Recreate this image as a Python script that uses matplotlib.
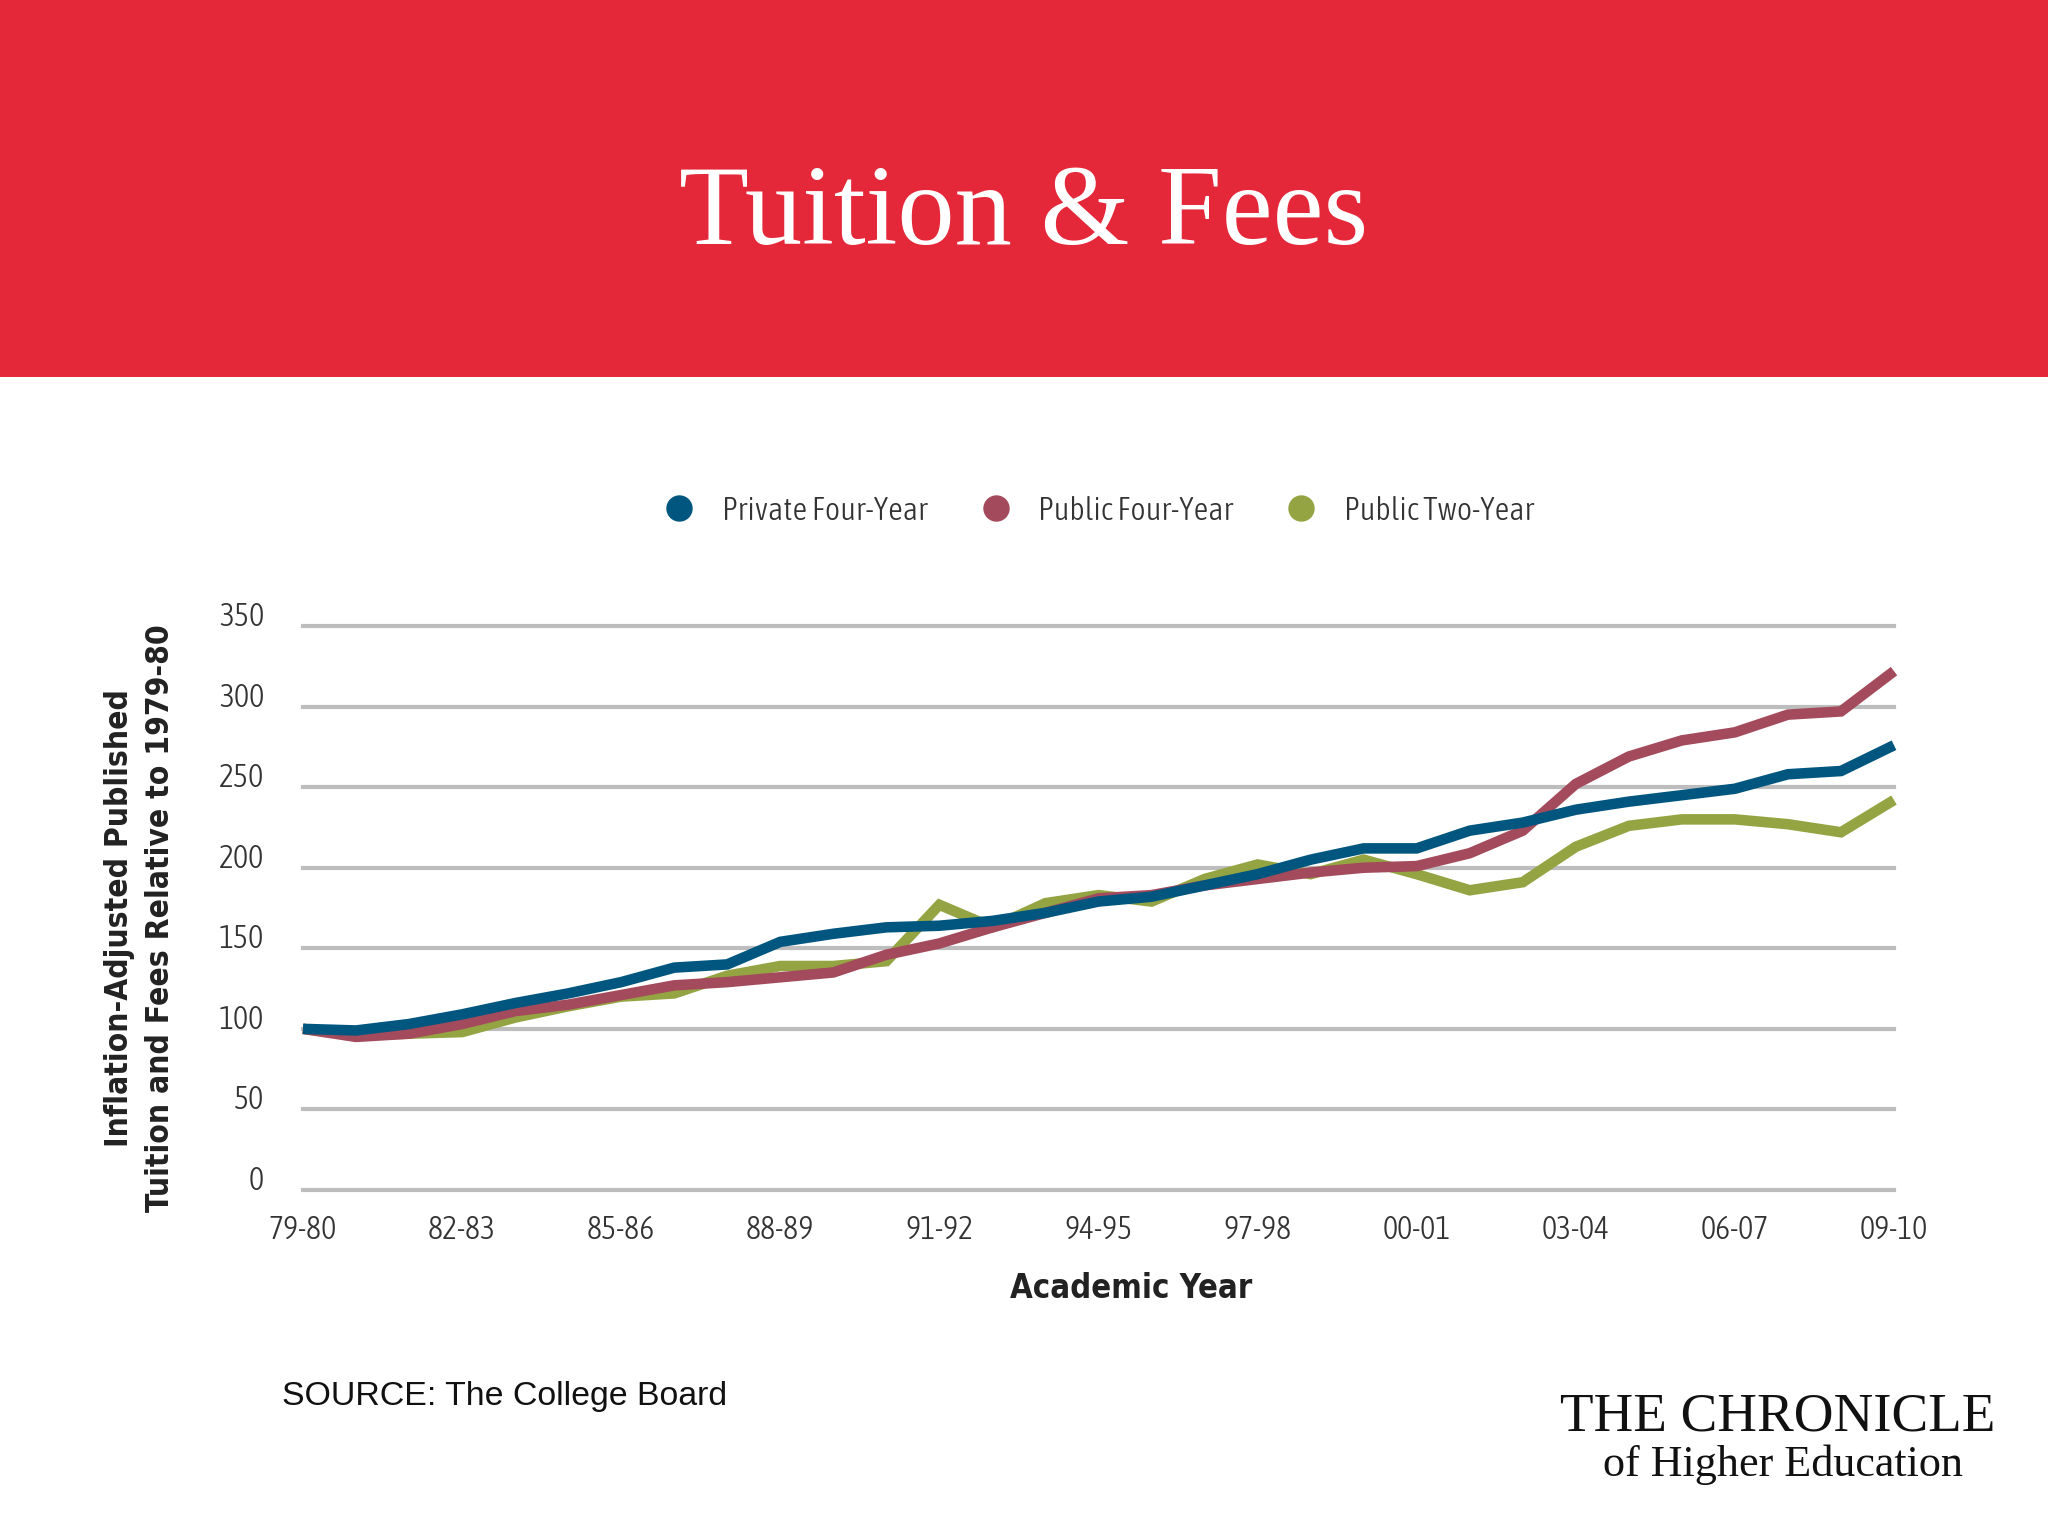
import os
import numpy as np
import matplotlib
matplotlib.use('Agg')
import matplotlib.pyplot as plt
import matplotlib.transforms as mtrans
from matplotlib import font_manager as fm
from matplotlib.lines import Line2D
from matplotlib.patches import Rectangle

# data (index, 1979-80 = 100)
years = ['79-80', '80-81', '81-82', '82-83', '83-84', '84-85', '85-86', '86-87', '87-88', '88-89',
         '89-90', '90-91', '91-92', '92-93', '93-94', '94-95', '95-96', '96-97', '97-98', '98-99',
         '99-00', '00-01', '01-02', '02-03', '03-04', '04-05', '05-06', '06-07', '07-08', '08-09', '09-10']
private_four = [100, 99, 103, 109, 116, 122, 129, 138, 140, 154,
                159, 163, 164, 167, 172, 179, 182, 189, 196, 205,
                212, 212, 223, 228, 236, 241, 245, 249, 258, 260, 276]
public_four = [100, 95, 97, 103, 111, 115, 121, 127, 129, 132,
               135, 146, 153, 163, 172, 181, 183, 189, 193, 197,
               200, 201, 209, 223, 252, 269, 279, 284, 295, 297, 322]
public_two = [100, 96, 97, 98, 107, 114, 120, 122, 133, 139,
              139, 142, 177, 163, 178, 183, 179, 193, 202, 196,
              205, 196, 186, 191, 213, 226, 230, 230, 227, 222, 242]
yticks = [0, 50, 100, 150, 200, 250, 300, 350]
series_names = ['Private Four-Year', 'Public Four-Year', 'Public Two-Year']

c_blue = '#00567F'
c_red = '#A34A5C'
c_green = '#95A443'
c_banner = '#E42839'


# look for a condensed sans font (the chart uses a narrow face)
def find_narrow(want_weight):
    best, best_score = None, None
    for f in fm.fontManager.ttflist:
        fn = os.path.basename(f.fname).lower()
        cond = ('condensed' in fn or 'narrow' in fn or
                f.stretch in ('condensed', 'semi-condensed', 'extra-condensed'))
        if not cond or f.style != 'normal' or 'italic' in fn or 'oblique' in fn:
            continue
        if 'extra' in fn or 'ultra' in fn:
            continue
        w = f.weight if isinstance(f.weight, int) else (700 if 'bold' in str(f.weight) else 400)
        score = abs(w - want_weight)
        if best_score is None or score < best_score:
            best, best_score = f, score
    if best is None:
        return fm.FontProperties(family='DejaVu Sans', weight=want_weight), False
    return fm.FontProperties(fname=best.fname), True


fp_reg, found_reg = find_narrow(300)
fp_bold, found_bold = find_narrow(700)
sz = 1.0 if found_reg else 0.85


def fprop(base, size):
    p = base.copy()
    p.set_size(size)
    return p


W, H = 2048, 1536
fig = plt.figure(figsize=(10.24, 7.68), dpi=200)

# red header
fig.patches.append(Rectangle((0, 1 - 377 / H), 1, 377 / H, transform=fig.transFigure,
                             facecolor=c_banner, edgecolor='none', zorder=0))
fig.text(0.5, 1 - 244 / H, 'Tuition & Fees', color='white', ha='center', va='baseline',
         fontsize=41.2, family='Liberation Serif')

# axes
x0, x1 = 303, 1894
ytop, ybot = 626, 1190
ax = fig.add_axes([x0 / W, 1 - ybot / H, (x1 - x0) / W, (ybot - ytop) / H])
x = np.arange(len(years))
ax.set_xlim(0, len(years) - 1)
ax.set_ylim(0, 350)
for s in ax.spines.values():
    s.set_visible(False)
for v in yticks:
    ax.axhline(v, color='#BDBDBD', lw=1.5, clip_on=False, zorder=1)

ax.plot(x, public_two, color=c_green, lw=3.8, solid_joinstyle='miter', solid_capstyle='butt', clip_on=False, zorder=3)
ax.plot(x, public_four, color=c_red, lw=3.8, solid_joinstyle='miter', solid_capstyle='butt', clip_on=False, zorder=4)
ax.plot(x, private_four, color=c_blue, lw=3.8, solid_joinstyle='miter', solid_capstyle='butt', clip_on=False, zorder=5)

ax.set_yticks(yticks)
ax.set_yticklabels([str(v) for v in yticks], fontproperties=fprop(fp_reg, 11.5 * sz), color='#333333')
ax.set_xticks(x[::3])
ax.set_xticklabels(years[::3], fontproperties=fprop(fp_reg, 11.5 * sz), color='#333333')
ax.tick_params(axis='y', length=0, pad=14)
ax.tick_params(axis='x', length=0, pad=9)
# y labels sit a little above their gridlines
shift = mtrans.ScaledTranslation(0, 0.06, fig.dpi_scale_trans)
for lab in ax.get_yticklabels():
    lab.set_transform(lab.get_transform() + shift)

fig.text(1131 / W, 1 - 1289 / H, 'Academic Year', ha='center', va='center',
         fontproperties=fprop(fp_bold, 11.8 * sz), color='#222222')
fig.text(140 / W, 1 - 918 / H, 'Inflation-Adjusted Published\nTuition and Fees Relative to 1979-80',
         ha='center', va='center', rotation=90, fontproperties=fprop(fp_bold, 11.4 * sz),
         color='#222222', linespacing=1.45)

# legend
handles = [Line2D([], [], ls='none', marker='o', ms=8.5, color=c) for c in (c_blue, c_red, c_green)]
leg = ax.legend(handles, series_names,
                loc='center', bbox_to_anchor=(0.5, (ybot - 511) / (ybot - ytop)), ncol=3,
                frameon=False, prop=fprop(fp_reg, 11.7 * sz), handletextpad=0.8,
                columnspacing=1.6, handlelength=1.0)
for t in leg.get_texts():
    t.set_color('#333333')

# footer
fig.text(282 / W, 1 - 1397 / H, 'SOURCE: The College Board', ha='left', va='center',
         family='Liberation Sans', fontsize=12.2, color='#111111')
fig.text(1778 / W, 1 - 1417 / H, 'THE CHRONICLE', ha='center', va='center',
         family='Liberation Serif', fontsize=19.8, color='#111111')
fig.text(1783 / W, 1 - 1465 / H, 'of Higher Education', ha='center', va='center',
         family='Liberation Serif', fontsize=15.9, color='#111111')

fig.savefig('out.png', dpi=200, facecolor='white')
